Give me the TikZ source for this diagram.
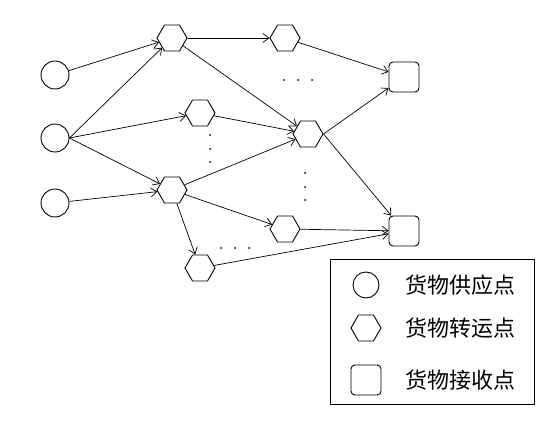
\documentclass[tikz,border=0pt]{standalone}
\usepackage{fontspec}
\newfontfamily\cjk{Noto Sans CJK SC}
\usetikzlibrary{shapes.geometric,arrows.meta}
\begin{document}
\begin{tikzpicture}[x=1pt,y=-1pt,line width=0.9pt,
  supply/.style={draw,circle,minimum size=28pt,inner sep=0pt},
  trans/.style={draw,regular polygon,regular polygon sides=6,minimum size=30pt,inner sep=0pt},
  recv/.style={draw,rounded corners=4pt,minimum size=30pt,inner sep=0pt},
  flow/.style={-{Straight Barb[length=6pt,width=9pt]},line width=0.7pt},
  dot/.style={circle,fill,inner sep=0pt,minimum size=2pt},
  legtext/.style={anchor=west,inner sep=0pt,font=\cjk\fontsize{22}{26}\selectfont}]
\useasboundingbox (0,0) rectangle (553,427);
% supply
\node[supply] (s1) at (55,75) {};
\node[supply] (s2) at (55,138) {};
\node[supply] (s3) at (55,203) {};
% transfer
\node[trans] (a) at (172,38) {};
\node[trans] (b) at (285,38) {};
\node[trans] (c) at (200,113) {};
\node[trans] (d) at (308,134) {};
\node[trans] (e) at (172,190) {};
\node[trans] (f) at (285,229) {};
\node[trans] (g) at (200,268) {};
% receive
\node[recv] (r1) at (404,77) {};
\node[recv] (r2) at (404,231) {};
% edges
\draw[flow] (s1) -- (a);
\draw[flow] (s2.east) -- (a);
\draw[flow] (s2.east) -- (c);
\draw[flow] (s2.east) -- (e);
\draw[flow] (s3) -- (e);
\draw[flow] (a) -- (b);
\draw[flow] (a) -- (d);
\draw[flow] (c) -- (d);
\draw[flow] (e) -- (d);
\draw[flow] (e) -- (f);
\draw[flow] (e) -- (g);
\draw[flow] (b) -- (r1);
\draw[flow] (d.east) -- (r1);
\draw[flow] (d.east) -- (r2);
\draw[flow] (f) -- (r2);
\draw[flow] (g) -- (r2);
% dots
\foreach \x/\y [count=\i] in {284/80,298/80,312/80} \node[dot] (h\i) at (\x,\y) {};
\foreach \x/\y [count=\i] in {210/135,210/149,210/162} \node[dot] (v\i) at (\x,\y) {};
\foreach \x/\y [count=\i] in {305/173,305/187,305/200} \node[dot] (w\i) at (\x,\y) {};
\foreach \x/\y [count=\i] in {221/248,235/248,249/248} \node[dot] (k\i) at (\x,\y) {};
% legend
\node[draw,line width=0.8pt,minimum width=204pt,minimum height=145pt,inner sep=0pt] (leg) at (432,331.5) {};
\node[supply,minimum size=26pt] (l1) at (366,285) {};
\node[trans] (l2) at (366,328) {};
\node[recv] (l3) at (366,380) {};
\node[legtext] (t1) at (405,285) {货物供应点};
\node[legtext] (t2) at (405,328) {货物转运点};
\node[legtext] (t3) at (405,380) {货物接收点};
\end{tikzpicture}
\end{document}
